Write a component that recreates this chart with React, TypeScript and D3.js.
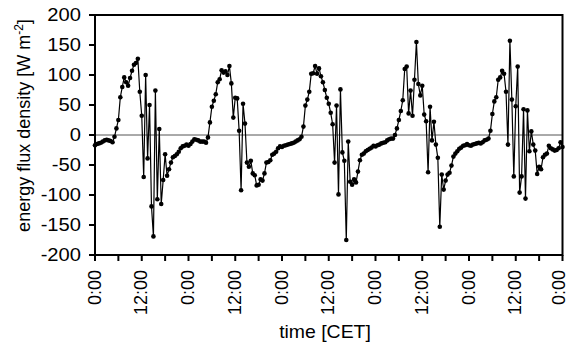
import React from "react";
import * as d3 from "d3";

// half-hourly energy flux density values [W m-2], 5 days
const day1 = [-17,-15,-14,-13,-11,-9,-8,-9,-10,-12,-3,11,25,63,80,96,88,82,95,107,117,120,127,72,32,-70,100,-39,50,-119,-169,74,-107,10,-115,-75,-32,-68,-57,-46,-37,-35,-32,-28,-22,-19,-18,-16];
const day2 = [-18,-15,-11,-7,-8,-9,-11,-11,-11,-13,-4,21,47,57,68,88,93,108,104,106,100,115,86,29,62,61,7,-92,52,19,-46,-53,-43,-64,-67,-84,-83,-74,-76,-64,-46,-45,-42,-33,-31,-28,-22,-19];
const day3 = [-20,-18,-17,-16,-15,-14,-13,-11,-9,-7,-3,14,49,59,72,102,103,115,102,111,98,88,75,62,52,37,18,-46,49,-99,76,-29,-43,-175,-11,-78,-83,-74,-79,-61,-42,-33,-31,-27,-25,-23,-21,-18];
const day4 = [-19,-17,-16,-14,-13,-12,-9,-7,-6,-6,0,11,25,40,58,110,114,36,74,32,92,155,85,66,82,34,23,-62,47,-9,22,-16,-38,-153,-66,-91,-76,-66,-63,-51,-36,-31,-27,-23,-21,-18,-17,-15];
const day5 = [-17,-18,-16,-15,-14,-13,-14,-12,-9,-8,-6,7,35,56,63,92,96,107,102,72,-16,157,59,-69,48,114,-96,-69,43,-106,41,-27,6,-16,-26,-65,-53,-57,-37,-33,-31,-18,-22,-24,-26,-25,-22,-12,-20];

const flux = [...day1, ...day2, ...day3, ...day4, ...day5];
const yTicks = [-200, -150, -100, -50, 0, 50, 100, 150, 200];
const xTickLabels = ["0:00", "12:00", "0:00", "12:00", "0:00", "12:00", "0:00", "12:00", "0:00", "12:00", "0:00"];

export default function App() {
  const W = 569, H = 347;
  const left = 95, right = 562.5, top = 15, bottom = 255;
  const x = d3.scaleLinear().domain([0, 240]).range([left, right]);
  const y = d3.scaleLinear().domain([-200, 200]).range([bottom, top]);
  const line = d3.line<number>().x((_, i) => x(i)).y((d) => y(d));
  const font = "'Liberation Sans', Arial, sans-serif";
  const minorTicks = d3.range(0, 241, 12);

  return (
    <svg width={W} height={H} style={{ position: "absolute", left: 0, top: 0, background: "#fff" }} fontFamily={font}>
      {/* zero line */}
      <line x1={left} x2={right} y1={y(0)} y2={y(0)} stroke="#555" strokeWidth={1} />
      {/* data */}
      <path d={line(flux) || ""} fill="none" stroke="#000" strokeWidth={1.2} />
      {flux.map((v, i) => (
        <circle key={i} cx={x(i)} cy={y(v)} r={2.3} fill="#000" />
      ))}
      {/* frame */}
      <rect x={left} y={top} width={right - left} height={bottom - top} fill="none" stroke="#000" strokeWidth={2} />
      {/* y ticks */}
      {yTicks.map((t) => (
        <g key={t}>
          <line x1={left - 6} x2={left} y1={y(t)} y2={y(t)} stroke="#000" strokeWidth={2} />
          <g transform={`translate(81,${y(t)}) scale(1.12,1)`}>
            <text x={0} y={0} dy="0.36em" textAnchor="end" fontSize={18} fill="#000">{t}</text>
          </g>
        </g>
      ))}
      {/* x ticks */}
      {minorTicks.map((t) => (
        <line key={t} x1={x(t)} x2={x(t)} y1={bottom} y2={bottom + 6} stroke="#000" strokeWidth={2} />
      ))}
      {xTickLabels.map((lab, k) => (
        <text key={k} transform={`translate(${Math.min(x(k * 24) + 5.5, 564.5)},270) rotate(-90)`} textAnchor="end" fontSize={18} fill="#000">{lab}</text>
      ))}
      {/* axis titles */}
      <g transform={`translate(325,338) scale(1.08,1)`}>
        <text x={0} y={0} textAnchor="middle" fontSize={18} fill="#000">time [CET]</text>
      </g>
      <text transform={`translate(30,125.5) rotate(-90)`} textAnchor="middle" fontSize={18} fill="#000">
        energy flux density [W m<tspan dy="-7" fontSize={12}>-2</tspan><tspan dy="7">]</tspan>
      </text>
    </svg>
  );
}
